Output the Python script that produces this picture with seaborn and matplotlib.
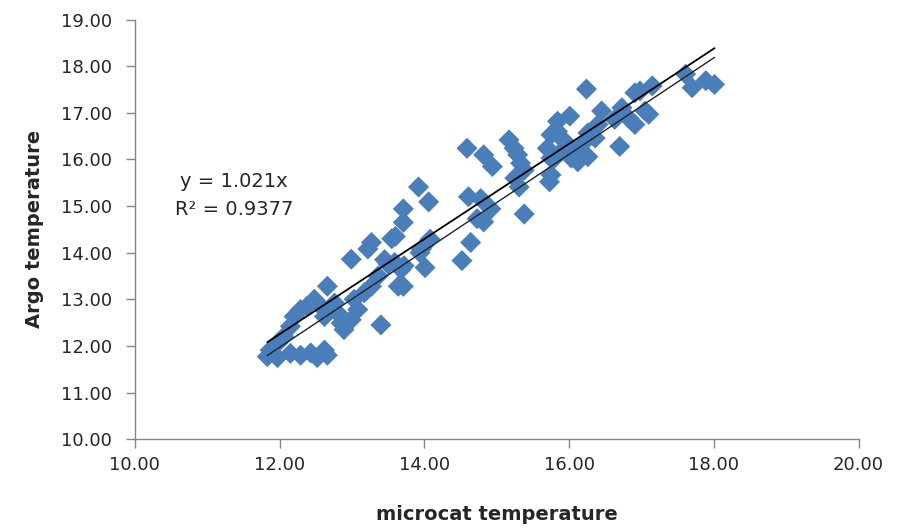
import numpy as np
import pandas as pd
import matplotlib.pyplot as plt
import seaborn as sns

# data
microcat = [
    11.83, 11.87, 11.97, 11.97, 12.06, 12.15, 12.15, 12.20, 12.29, 12.29,
    12.38, 12.43, 12.48, 12.52, 12.57, 12.62, 12.62, 12.66, 12.66, 12.71,
    12.76, 12.80, 12.85, 12.89, 12.99, 13.03, 13.08, 12.99, 13.17, 13.27,
    13.36, 13.27, 13.22, 13.40, 13.45, 13.50, 13.55, 13.59, 13.60, 13.64,
    13.68, 13.71, 13.71, 13.72, 13.71, 13.92, 13.94, 14.01, 14.06, 14.08,
    13.96, 14.52, 14.59, 14.61, 14.64, 14.73, 14.78, 14.82, 14.82, 14.92,
    14.94, 15.17, 15.24, 15.29, 15.33, 15.38, 15.31, 15.38, 15.25, 15.70,
    15.73, 15.75, 15.75, 15.75, 15.80, 15.84, 15.84, 15.89, 15.94, 16.01,
    16.03, 16.08, 16.12, 16.22, 16.24, 16.26, 16.26, 16.36, 16.40, 16.45,
    16.63, 16.70, 16.73, 16.82, 16.91, 16.91, 16.98, 17.05, 17.10, 17.15,
    17.61, 17.70, 17.89, 18.01,
]
argo = [
    11.77, 11.91, 12.06, 11.75, 12.20, 12.42, 11.84, 12.63, 12.78, 11.80,
    12.85, 11.85, 13.00, 11.75, 12.85, 12.63, 11.91, 13.28, 11.80, 12.78,
    12.92, 12.71, 12.49, 12.35, 12.56, 13.00, 12.78, 13.86, 13.14, 13.28,
    13.50, 14.22, 14.08, 12.45, 13.85, 13.75, 14.30, 13.79, 14.35, 13.28,
    13.64, 14.94, 14.65, 13.72, 13.28, 15.41, 14.00, 13.68, 15.09, 14.29,
    14.08, 13.83, 16.24, 15.20, 14.22, 14.73, 15.16, 16.10, 14.66, 14.94,
    15.85, 16.42, 16.24, 16.10, 15.92, 15.77, 15.41, 14.83, 15.60, 16.24,
    15.52, 16.53, 16.03, 15.67, 16.03, 16.82, 16.60, 16.17, 16.39, 16.93,
    16.03, 16.17, 15.95, 16.39, 17.51, 16.57, 16.06, 16.46, 16.75, 17.04,
    16.86, 16.28, 17.11, 16.89, 16.75, 17.43, 17.47, 17.04, 16.97, 17.58,
    17.83, 17.54, 17.69, 17.61,
]

# trendlines
slope_zero = 1.021
fit_slope = 1.035
fit_intercept = -0.45

df = pd.DataFrame({"microcat": microcat, "argo": argo})

sns.set_style("white")
plt.rcParams['font.family'] = ['DejaVu Sans']

fig = plt.figure(figsize=(8.99, 5.31), dpi=100)
ax = fig.add_axes([0.150, 0.173, 0.805, 0.790])

sns.scatterplot(data=df, x="microcat", y="argo", marker="D", s=115,
                color="#4A7EBB", edgecolor="none", linewidth=0, ax=ax, zorder=2)

xs = np.array([df["microcat"].min(), df["microcat"].max()])
ax.plot(xs, slope_zero * xs, color="black", lw=1.3, zorder=3)
ax.plot(xs, fit_slope * xs + fit_intercept, color="#222222", lw=1.0, zorder=3)

ax.set_xlim(10, 20)
ax.set_ylim(10, 19)
ax.set_xticks(np.arange(10, 20.1, 2))
ax.set_yticks(np.arange(10, 19.1, 1))
ax.xaxis.set_major_formatter(plt.FormatStrFormatter("%.2f"))
ax.yaxis.set_major_formatter(plt.FormatStrFormatter("%.2f"))

for side in ["top", "right"]:
    ax.spines[side].set_visible(False)
for side in ["left", "bottom"]:
    ax.spines[side].set_color("#868686")
    ax.spines[side].set_linewidth(1.0)
ax.tick_params(axis="both", direction="out", length=6.5, width=1.0,
               bottom=True, left=True,
               color="#868686", labelsize=13, labelcolor="#262626")
ax.tick_params(axis="y", pad=10)
ax.tick_params(axis="x", pad=6)

ax.set_xlabel("microcat temperature", fontsize=14, fontweight="bold",
              color="#262626", labelpad=22)
ax.set_ylabel("Argo temperature", fontsize=14, fontweight="bold",
              color="#262626", labelpad=12)

ax.text(0.137, 0.615, "y = 1.021x", transform=ax.transAxes, ha="center",
        va="center", fontsize=14, color="#262626")
ax.text(0.137, 0.548, "R² = 0.9377", transform=ax.transAxes, ha="center",
        va="center", fontsize=14, color="#262626")

plt.savefig("out.png", dpi=100)
